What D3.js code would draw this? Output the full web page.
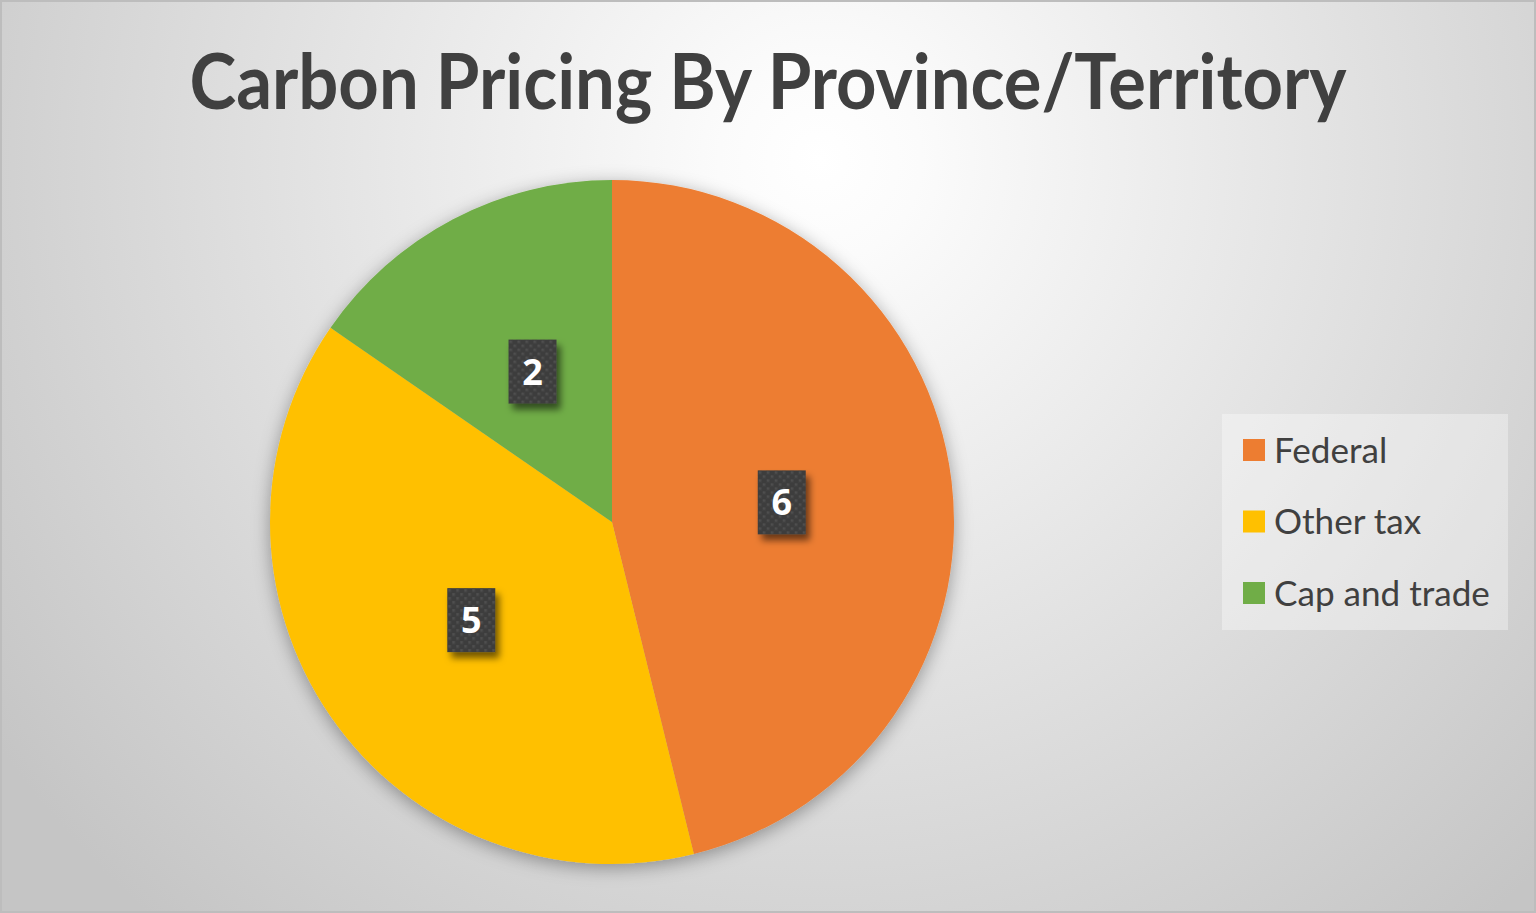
<!DOCTYPE html>
<html>
<head>
<meta charset="utf-8">
<script src="https://cdn.jsdelivr.net/npm/d3@7"></script>
<style>
  html, body { margin: 0; padding: 0; background: #ffffff; }
  svg { display: block; }
</style>
</head>
<body>
<svg id="chart" width="1536" height="913"></svg>
<script>
// ---- data ----
const titleText = "Carbon Pricing By Province/Territory";
const categories = ["Federal", "Other tax", "Cap and trade"];
const values = [6, 5, 2];
const colors = ["#ED7D31", "#FFC000", "#70AD47"];

// ---- layout ----
const W = 1536, H = 913;
const cx = 612, cy = 522, R = 342;
const svg = d3.select("#chart");
const defs = svg.append("defs");

const bg = defs.append("radialGradient").attr("id", "bg")
  .attr("gradientUnits", "userSpaceOnUse")
  .attr("cx", 820).attr("cy", 160).attr("r", 1010);
bg.append("stop").attr("offset", 0).attr("stop-color", "#ffffff");
bg.append("stop").attr("offset", 0.1).attr("stop-color", "#fbfbfb");
bg.append("stop").attr("offset", 1).attr("stop-color", "#c5c5c5");

const pieShadow = defs.append("filter").attr("id", "pieShadow")
  .attr("x", "-20%").attr("y", "-20%").attr("width", "140%").attr("height", "140%");
pieShadow.append("feDropShadow").attr("dx", 0).attr("dy", 4)
  .attr("stdDeviation", 9).attr("flood-color", "#000").attr("flood-opacity", 0.35);

const lblShadow = defs.append("filter").attr("id", "lblShadow")
  .attr("x", "-50%").attr("y", "-50%").attr("width", "200%").attr("height", "200%");
lblShadow.append("feDropShadow").attr("dx", 4).attr("dy", 6)
  .attr("stdDeviation", 3.5).attr("flood-color", "#000").attr("flood-opacity", 0.55);

const pat = defs.append("pattern").attr("id", "dots")
  .attr("patternUnits", "userSpaceOnUse").attr("width", 8).attr("height", 8);
pat.append("rect").attr("width", 8).attr("height", 8).attr("fill", "#3e3e3e");
pat.append("rect").attr("x", 1).attr("y", 1).attr("width", 2.5).attr("height", 2.5).attr("fill", "#4f4f4f");
pat.append("rect").attr("x", 5).attr("y", 5).attr("width", 2.5).attr("height", 2.5).attr("fill", "#4f4f4f");

// background
svg.append("rect").attr("x", 0).attr("y", 0).attr("width", W).attr("height", H)
  .attr("fill", "url(#bg)");
svg.append("rect").attr("x", 1).attr("y", 1).attr("width", W - 2).attr("height", H - 2)
  .attr("fill", "none").attr("stroke", "#bdbdbd").attr("stroke-width", 2);

// title
const title = svg.append("text")
  .attr("x", 768).attr("y", 109)
  .attr("text-anchor", "middle")
  .attr("font-family", "Lato, 'Open Sans', sans-serif")
  .attr("font-weight", "bold")
  .attr("font-size", 76)
  .attr("fill", "#404040")
  .text(titleText);
title.attr("textLength", 1157).attr("lengthAdjust", "spacingAndGlyphs");

// pie
const pie = d3.pie().sort(null).value(d => d);
const arcs = pie(values);
const arc = d3.arc().innerRadius(0).outerRadius(R);
const g = svg.append("g").attr("transform", `translate(${cx},${cy})`);
g.append("g").attr("filter", "url(#pieShadow)")
  .selectAll("path").data(arcs).join("path")
  .attr("d", arc)
  .attr("fill", (d, i) => colors[i]);

// data labels
const bw = 48, bh = 64;
const lbl = g.selectAll("g.lbl").data(arcs).join("g")
  .attr("class", "lbl")
  .attr("transform", d => { const c = arc.centroid(d); return `translate(${c[0]},${c[1] + 1})`; });
lbl.append("rect")
  .attr("x", -bw / 2).attr("y", -bh / 2).attr("width", bw).attr("height", bh)
  .attr("fill", "url(#dots)")
  .attr("filter", "url(#lblShadow)");
lbl.append("text")
  .attr("text-anchor", "middle")
  .attr("dy", "0.36em")
  .attr("font-family", "'Open Sans', Lato, sans-serif")
  .attr("font-weight", "bold")
  .attr("font-size", 36)
  .attr("fill", "#ffffff")
  .text(d => d.data);

// legend
const lx = 1222, ly = 414, lw = 286, lh = 216;
svg.append("rect").attr("x", lx).attr("y", ly).attr("width", lw).attr("height", lh)
  .attr("fill", "#ffffff").attr("fill-opacity", 0.35);
const rowY = d3.scalePoint().domain(categories).range([450, 593]);
const items = svg.selectAll("g.leg").data(categories).join("g")
  .attr("class", "leg")
  .attr("transform", d => `translate(${lx},${rowY(d)})`);
items.append("rect")
  .attr("x", 21).attr("y", -11).attr("width", 22).attr("height", 22)
  .attr("fill", (d, i) => colors[i]);
const ltxt = items.append("text")
  .attr("x", 52).attr("dy", "0.36em")
  .attr("font-family", "Lato, 'Open Sans', sans-serif")
  .attr("font-size", 33)
  .attr("fill", "#404040")
  .text(d => d);
// fit legend font to reference width of the longest label
const longest = ltxt.nodes()[2].getComputedTextLength();
const fs = 33 * 216 / longest;
ltxt.attr("font-size", fs);
</script>
</body>
</html>
